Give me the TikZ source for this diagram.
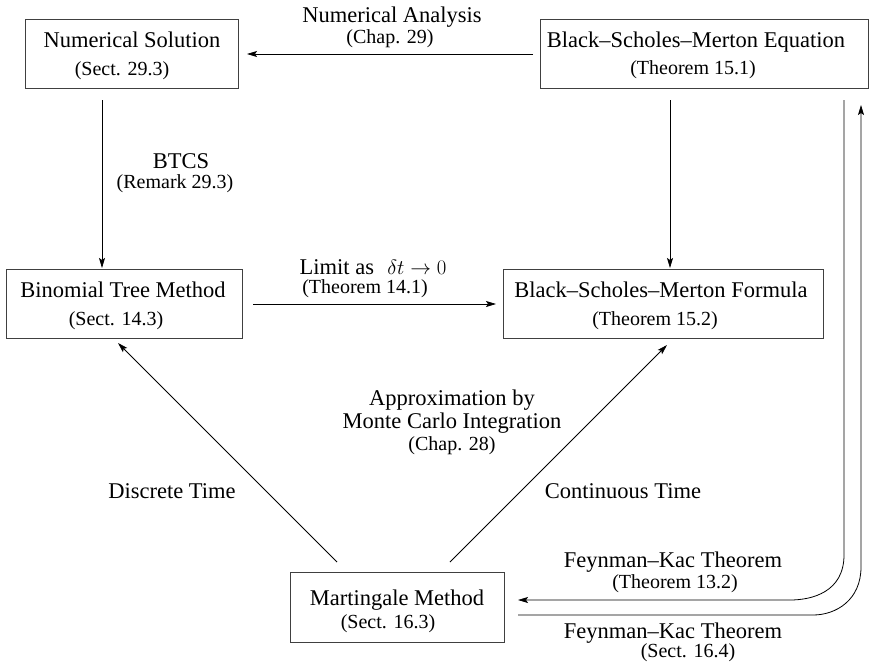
\documentclass[tikz,border=0pt]{standalone}
\usepackage{fontspec}
\setmainfont{Liberation Serif}
\usetikzlibrary{arrows.meta}
\begin{document}
\begin{tikzpicture}[x=1pt,y=-1pt,
  box/.style={draw=black!75, line width=0.9pt, inner sep=0pt, rectangle},
  tmain/.style={font=\fontsize{22.5}{27}\selectfont, inner sep=0pt, anchor=base},
  tsmall/.style={font=\fontsize{20}{24}\selectfont, inner sep=0pt, anchor=base},
  arr/.style={-{Stealth[length=10pt,width=6pt,inset=2pt]}, line width=0.8pt},
  ln/.style={line width=0.8pt}]
\useasboundingbox (0,0) rectangle (870,664);

% boxes
\node[box, minimum width=213pt, minimum height=69pt] (ns) at (131.5,53.5) {};
\node[box, minimum width=328pt, minimum height=69pt] (bsme) at (704,53.5) {};
\node[box, minimum width=236pt, minimum height=69pt] (btm) at (124,303.5) {};
\node[box, minimum width=320pt, minimum height=69pt] (bsmf) at (663,303.5) {};
\node[box, minimum width=214pt, minimum height=70pt] (mm) at (397,607) {};

% box texts
\node[tmain] (nsA) at (132,47) {Numerical Solution};
\node[tsmall] (nsB) at (122,75) {(Sect. 29.3)};
\node[tmain] (bsmeA) at (696,47) {Black–Scholes–Merton Equation};
\node[tsmall] (bsmeB) at (693,74) {(Theorem 15.1)};
\node[tmain] (btmA) at (123,297) {Binomial Tree Method};
\node[tsmall] (btmB) at (116,325) {(Sect. 14.3)};
\node[tmain] (bsmfA) at (661,297) {Black–Scholes–Merton Formula};
\node[tsmall] (bsmfB) at (655,325) {(Theorem 15.2)};
\node[tmain] (mmA) at (397,605) {Martingale Method};
\node[tsmall] (mmB) at (388,628) {(Sect. 16.3)};

% connector end points
\coordinate (na1) at (533,54);  \coordinate (na2) at (247,54);
\coordinate (bt1) at (102,100); \coordinate (bt2) at (102,268);
\coordinate (bv1) at (670,100); \coordinate (bv2) at (670,268);
\coordinate (li1) at (253,304); \coordinate (li2) at (496,304);
\coordinate (dt1) at (337,562); \coordinate (dt2) at (118,343);
\coordinate (ct1) at (450,562); \coordinate (ct2) at (667,345);
\coordinate (fa1) at (844,100); \coordinate (fa2) at (518,600);
\coordinate (fb1) at (518,615); \coordinate (fb2) at (861,105);

% connectors
\draw[arr] (na1) -- (na2);
\draw[arr] (bt1) -- (bt2);
\draw[arr] (bv1) -- (bv2);
\draw[arr] (li1) -- (li2);
\draw[arr] (dt1) -- (dt2);
\draw[arr] (ct1) -- (ct2);
\draw[arr] (fa1) -- (844,555) .. controls (844,592) and (812,600) .. (790,600) -- (fa2);
\draw[arr] (fb1) -- (813,615) .. controls (836,615) and (861,600) .. (861,567) -- (fb2);

% labels
\node[tmain] (naA) at (392,22) {Numerical Analysis};
\node[tsmall] (naB) at (390,43) {(Chap. 29)};
\node[tmain] (btA) at (181,168) {BTCS};
\node[tsmall] (btB) at (175,188) {(Remark 29.3)};
\node[tmain] (liA) at (373,274) {Limit as\hspace{0.6em}$\delta t \rightarrow 0$};
\node[tsmall] (liB) at (365,293) {(Theorem 14.1)};
\node[tmain] (apA) at (452,405) {Approximation by};
\node[tmain] (apB) at (452,428) {Monte Carlo Integration};
\node[tsmall] (apC) at (452,450) {(Chap. 28)};
\node[tmain] (dtA) at (172,498) {Discrete Time};
\node[tmain] (ctA) at (623,498) {Continuous Time};
\node[tmain] (faA) at (673,567) {Feynman–Kac Theorem};
\node[tsmall] (faB) at (675,588) {(Theorem 13.2)};
\node[tmain] (fbA) at (673,638) {Feynman–Kac Theorem};
\node[tsmall] (fbB) at (688,657) {(Sect. 16.4)};
\end{tikzpicture}
\end{document}
